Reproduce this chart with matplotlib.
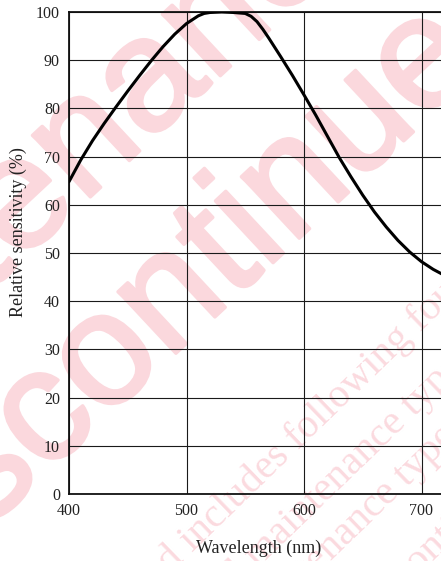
import matplotlib
matplotlib.use('Agg')
import matplotlib.pyplot as plt
import matplotlib.patheffects as pe

# ---- data ----
wavelength = [400, 410, 420, 430, 440, 450, 460, 470, 480, 490, 500, 510, 515,
              520, 530, 540, 550, 555, 560, 565, 570, 580, 590, 600, 610, 620,
              630, 640, 650, 660, 670, 680, 690, 700, 710, 720]
sensitivity = [64.8, 69.3, 73.3, 76.9, 80.3, 83.6, 86.8, 89.9, 92.8, 95.4, 97.6,
               99.2, 99.7, 99.9, 100.0, 99.9, 99.7, 99.1, 98.0, 96.4, 94.6, 90.8,
               86.9, 82.8, 78.6, 74.2, 69.8, 65.8, 62.0, 58.5, 55.4, 52.6, 50.2,
               48.2, 46.6, 45.3]
x_ticks = [400, 500, 600, 700, 800]
y_ticks = [0, 10, 20, 30, 40, 50, 60, 70, 80, 90, 100]
x_label = "Wavelength (nm)"
y_label = "Relative sensitivity (%)"

W, H = 441, 561
fig = plt.figure(figsize=(W / 100, H / 100), dpi=100)
fig.patch.set_facecolor('white')

def fp(x, y):
    return x / W, 1 - y / H

# ---- watermark (behind the chart) ----
pink = '#fbd8dd'
big = dict(rotation=43, rotation_mode='anchor', ha='center', va='center',
           fontsize=115, family='Liberation Sans',
           color=pink, zorder=-5,
           path_effects=[pe.withStroke(linewidth=2.5, foreground=pink)])
fig.text(*fp(54, 174), "Maintenance/", **big)
fig.text(*fp(185, 288), "Discontinued", **big)

small = dict(rotation=44, rotation_mode='anchor', ha='left', va='baseline',
             fontsize=29.5, family='Liberation Serif', color='#fbdadf', zorder=-4)
small_lines = ["Discontinued includes following four Product lifecycle stage.",
               "planed maintenance type",
               "maintenance type",
               "planed discontinued typed"]
anchors = [(28, 712), (172, 652), (251, 639), (285, 705)]
for (ax_, ay_), s in zip(anchors, small_lines):
    fig.text(*fp(ax_, ay_), s, **small)

# ---- chart ----
ax = fig.add_axes([69 / W, (H - 494) / H, 470 / W, 482 / H])
ax.set_facecolor('none')
ax.set_xlim(400, 800)
ax.set_ylim(0, 100)
ax.set_xticks(x_ticks)
ax.set_yticks(y_ticks)
ax.grid(True, color='#1a1a1a', linewidth=0.8)
ax.set_axisbelow(True)
for sp in ax.spines.values():
    sp.set_linewidth(1.3)
    sp.set_color('#111111')

ax.plot(wavelength, sensitivity, color='black', linewidth=2.2, zorder=5,
        solid_capstyle='round', solid_joinstyle='round')

ax.tick_params(length=0, pad=6.5, labelsize=11.5, labelcolor='#222222')
for lab in ax.get_xticklabels() + ax.get_yticklabels():
    lab.set_family('Liberation Serif')

ax.set_xlabel(x_label, family='Liberation Serif', fontsize=13, color='#222222')
ax.set_ylabel(y_label, family='Liberation Serif', fontsize=13, color='#222222')
ax.xaxis.label.set_va('center')
ax.yaxis.label.set_va('center')
ax.xaxis.set_label_coords((259 - 69) / 470, (494 - 548) / 482)
ax.yaxis.set_label_coords((18 - 69) / 470, (494 - 232) / 482)

fig.savefig('out.png', dpi=100)
